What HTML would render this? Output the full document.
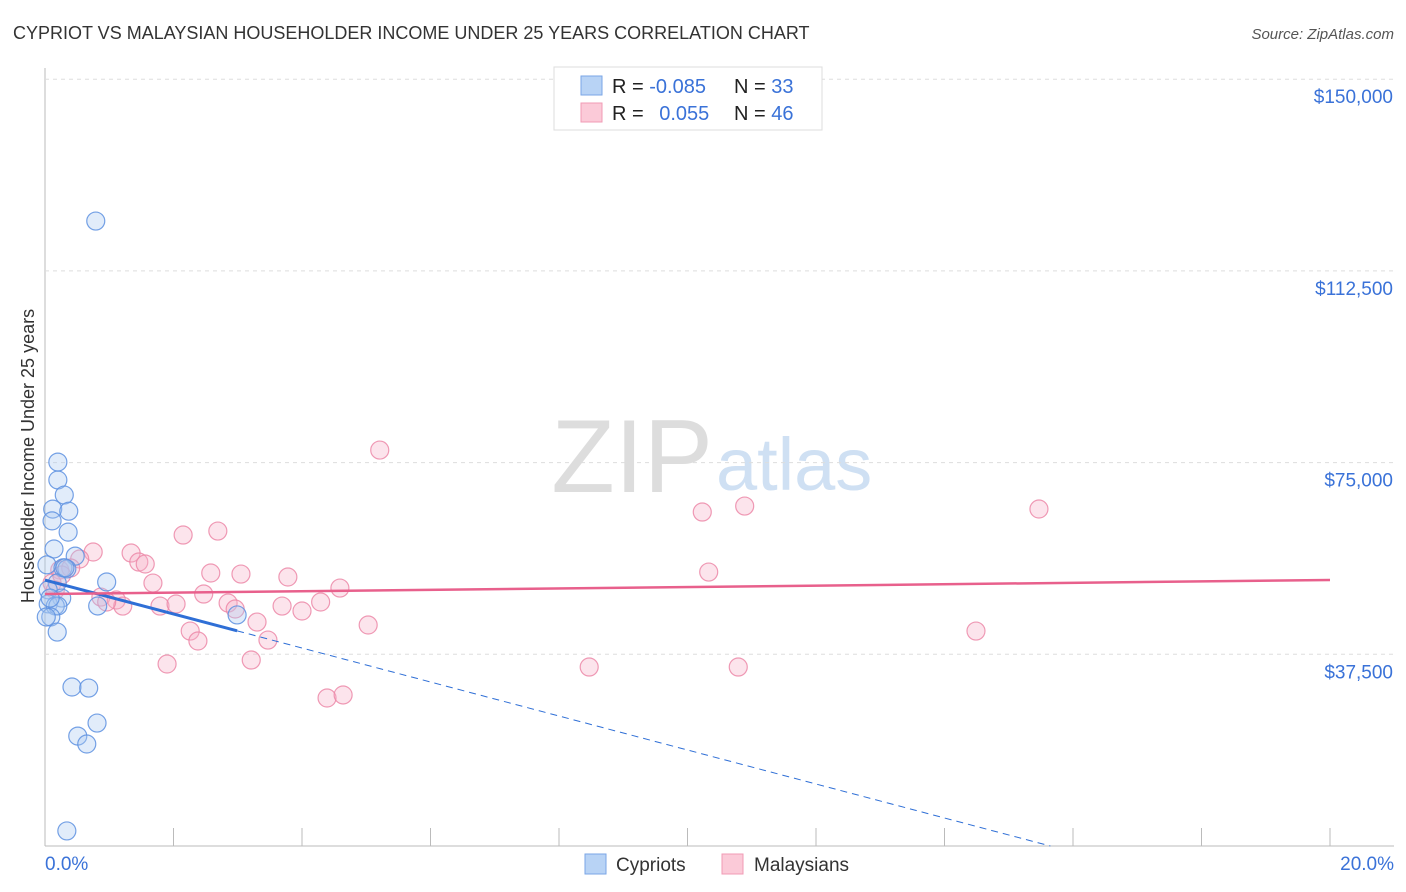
<!DOCTYPE html>
<html><head><meta charset="utf-8"><style>
body{margin:0;background:#fff;font-family:"Liberation Sans",sans-serif;}
#wrap{position:relative;width:1406px;height:892px;overflow:hidden;}
svg text{font-family:"Liberation Sans",sans-serif;}
</style></head><body>
<div id="wrap">
<svg id="chart" width="1406" height="892">
<text x="13" y="39" font-size="18" fill="#333">CYPRIOT VS MALAYSIAN HOUSEHOLDER INCOME UNDER 25 YEARS CORRELATION CHART</text>
<text x="1394" y="39" font-size="15" fill="#555" font-style="italic" text-anchor="end">Source: ZipAtlas.com</text>
<text x="713" y="492" font-size="104" font-family="Liberation Serif" fill="#ddd" text-anchor="end">ZIP</text>
<text x="716" y="490" font-size="74" fill="#cfe0f3">atlas</text>
<text transform="translate(34,456) rotate(-90)" font-size="18" fill="#333" text-anchor="middle">Householder Income Under 25 years</text>
<g id="grid"></g><g id="marks"></g>
<rect x="554" y="67" width="268" height="63" fill="#fff" stroke="#ddd"/>
<rect x="581" y="76" width="21" height="19" fill="#b8d3f5" stroke="#7aa6e6"/>
<rect x="581" y="103" width="21" height="19" fill="#fbcad8" stroke="#f09bb5"/>
<text x="612" y="93" font-size="20" fill="#222">R = <tspan fill="#3a72d8">-0.085</tspan></text>
<text x="734" y="93" font-size="20" fill="#222">N = <tspan fill="#3a72d8">33</tspan></text>
<text x="612" y="120" font-size="20" fill="#222">R = <tspan fill="#3a72d8" dx="10">0.055</tspan></text>
<text x="734" y="120" font-size="20" fill="#222">N = <tspan fill="#3a72d8">46</tspan></text>
<rect x="585" y="854" width="21" height="20" fill="#b8d3f5" stroke="#7aa6e6"/>
<text x="616" y="871" font-size="19" fill="#333">Cypriots</text>
<rect x="722" y="854" width="21" height="20" fill="#fbcad8" stroke="#f09bb5"/>
<text x="754" y="871" font-size="19" fill="#333">Malaysians</text>
</svg></div>
<script>
const yTicks=[37500,75000,112500,150000];
const yTickLabels=["$37,500","$75,000","$112,500","$150,000"];
const xTickLabels=["0.0%","20.0%"];
const cypX=[0.79,0.20,0.20,0.30,0.12,0.37,0.11,0.36,0.14,0.47,0.03,0.28,0.34,0.96,0.19,0.05,0.26,0.05,0.16,0.82,0.20,0.09,0.02,2.99,0.19,0.42,0.68,0.81,0.51,0.65,0.34,0.31,0.08];
const cypY=[122250,75100,71600,68650,65900,65500,63600,61400,58100,56700,55000,54400,54200,51650,51450,50100,48500,47350,46950,46950,46950,44800,44800,45200,41850,31100,30900,24050,21500,19950,2950,54400,48500];
const malX=[5.21,2.15,2.69,10.23,10.89,15.47,0.75,1.34,0.54,1.46,1.56,0.23,0.40,2.58,3.05,3.78,10.33,1.68,4.59,0.11,0.87,2.47,1.11,1.21,1.79,2.04,2.85,2.96,3.69,4.29,4.00,3.30,5.03,2.26,2.38,3.47,14.49,1.90,3.21,8.47,10.79,4.39,4.64,0.26,0.96,0.16];
const malY=[77450,60830,61610,65330,66500,65920,57510,57310,56140,55550,55160,53990,54380,53400,53200,52620,53590,51440,50460,51440,48700,49290,48120,46940,46940,47340,47530,46360,46940,47730,45970,43810,43230,42050,40100,40290,42050,35600,36380,35010,35010,28950,29540,53010,47730,50070];
const cypTrend=[52030,-3325];
const malTrend=[49290,137];
const NS="http://www.w3.org/2000/svg";
const X=v=>45+v/20*1285, Y=v=>846-v/37500*191.7;
function mk(p,t,a){const e=document.createElementNS(NS,t);for(const k in a)e.setAttribute(k,a[k]);p.appendChild(e);return e;}
const g=document.getElementById('grid'), m=document.getElementById('marks');
let ax=mk(g,'line',{x1:45,y1:68,x2:45,y2:846,stroke:'#bbb'});


let bx=mk(g,'line',{x1:45,y1:846,x2:1394,y2:846,stroke:'#bbb'});


yTicks.forEach((t,i)=>{
 const l=mk(g,'line',{x1:45,x2:1394,y1:Y(t),y2:Y(t),stroke:'#ddd','stroke-dasharray':'4,4'});
 
 
 const tx=mk(g,'text',{x:1393,y:Y(t)+24,'font-size':19,fill:'#3a72d8','text-anchor':'end'});
 tx.textContent=yTickLabels[i];
 
 
});
for(let i=0;i<=10;i++){
 const l=mk(g,'line',{x1:X(i*2),x2:X(i*2),y1:828,y2:846,stroke:'#bbb'});
 
 
}
[[0,45,'start'],[20,1394,'end']].forEach((d,i)=>{
 const tx=mk(g,'text',{x:d[1],y:870,'font-size':19,fill:'#3a72d8','text-anchor':d[2]});
 tx.textContent=xTickLabels[i];
 
 
});
function dots(xs,ys,fill,stroke,name){xs.forEach((x,i)=>{
 const c=mk(m,'circle',{cx:X(x),cy:Y(ys[i]),r:9,fill:fill,'fill-opacity':0.35,stroke:stroke,'stroke-width':1.2,'stroke-opacity':0.85});
 
 
});}
dots(malX,malY,'#f7b3c8','#ec88a8','malaysian-point');
dots(cypX,cypY,'#a9c8f2','#5d91e0','cypriot-point');
const cx2=Math.max(...cypX), yEnd=-cypTrend[0]/cypTrend[1];
let t1=mk(m,'line',{x1:X(0),y1:Y(cypTrend[0]),x2:X(cx2),y2:Y(cypTrend[0]+cypTrend[1]*cx2),stroke:'#2f6fd6','stroke-width':3});


let t2=mk(m,'line',{x1:X(cx2),y1:Y(cypTrend[0]+cypTrend[1]*cx2),x2:X(yEnd),y2:Y(0),stroke:'#2f6fd6','stroke-width':1,'stroke-dasharray':'7,5'});


let t3=mk(m,'line',{x1:X(0),y1:Y(malTrend[0]),x2:X(20),y2:Y(malTrend[0]+malTrend[1]*20),stroke:'#e8608c','stroke-width':2.5});


</script>
</body></html>
